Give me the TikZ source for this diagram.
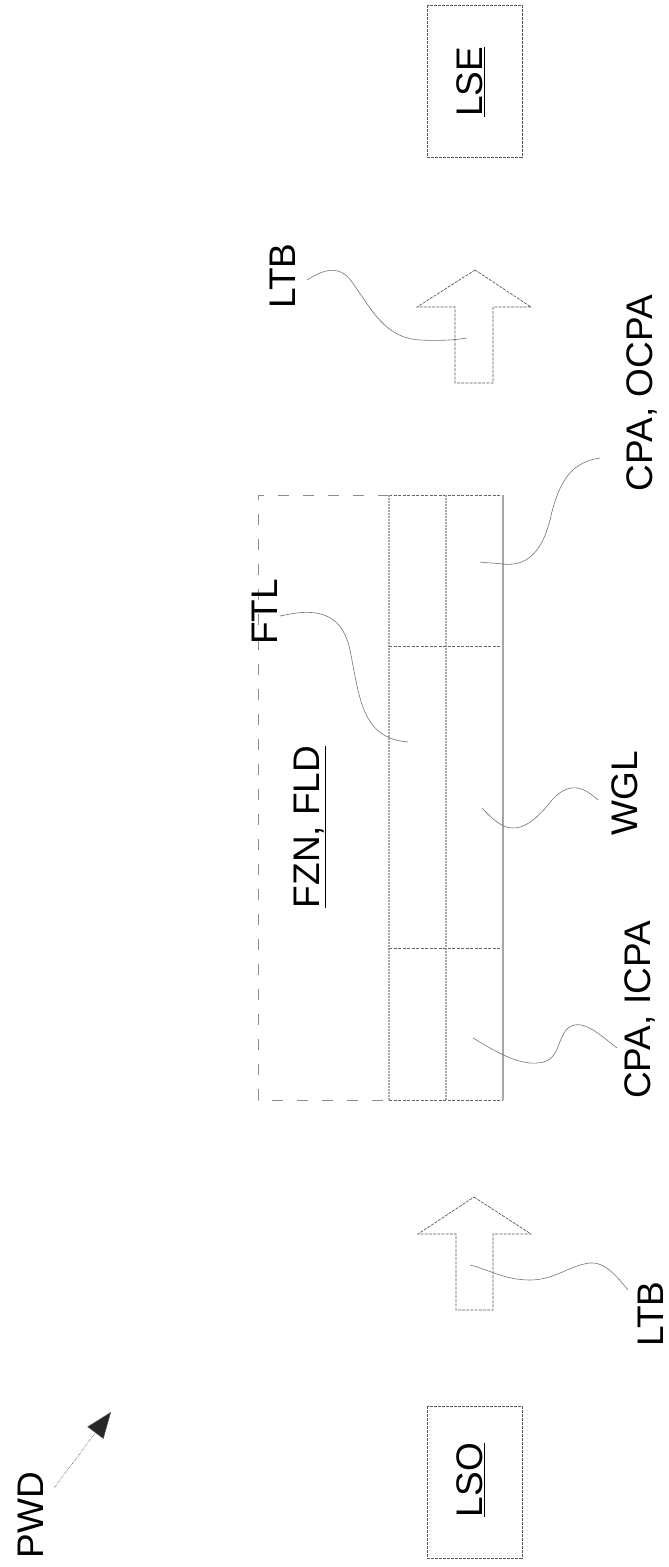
\documentclass[tikz,border=0pt]{standalone}
\usepackage{fontspec}
\setmainfont{Liberation Sans}
\usetikzlibrary{arrows.meta}
\begin{document}
\begin{tikzpicture}[x=1pt,y=-1pt,
  lbl/.style={font=\fontsize{37}{40}\selectfont, rotate=90, anchor=base, inner sep=0pt, text=black},
  leader/.style={draw=black!55, line width=0.6pt},
  blockarrow/.style={draw=black!65, line width=0.7pt, dash pattern=on 3pt off 1.2pt},
  srcbox/.style={draw=black!65, line width=0.7pt, dash pattern=on 3pt off 1pt},
  longdash/.style={draw=black!45, line width=0.8pt, dash pattern=on 11pt off 14pt},
  finedash/.style={draw=black!60, line width=0.7pt, dash pattern=on 3pt off 1.5pt},
  layerline/.style={draw=black!35, line width=1.1pt, dash pattern=on 2pt off 1pt},
  edgeline/.style={draw=black!35, line width=1.5pt}
]
\useasboundingbox (0,0) rectangle (669,1567);

% light source / sink boxes
\draw[srcbox] (427,5) rectangle (522,157);
\node[lbl] (lse) at (482,82) {\underline{LSE}};
\draw[srcbox] (427,1406) rectangle (522,1558);
\node[lbl] (lso) at (482,1480) {\underline{LSO}};

% propagation direction
\node[lbl] (pwd) at (43,1515) {PWD};
\coordinate (pwdstart) at (54,1488);
\coordinate (pwdtip) at (111,1412);
\draw[draw=black!70, line width=0.6pt, densely dotted, -{Triangle[length=26pt,width=20pt,fill=black!85]}] (pwdstart) -- (pwdtip);

% block arrows
\draw[blockarrow] (475,270) -- (531,307) -- (493,307) -- (493,383) -- (455,383) -- (455,307) -- (417,307) -- cycle;
\draw[blockarrow] (474,1197) -- (531,1234) -- (493,1234) -- (493,1310) -- (456,1310) -- (456,1234) -- (418,1234) -- cycle;

% main structure
\draw[longdash] (389,495) -- (258,495) -- (258,1100) -- (389,1100);
\draw[finedash] (389,495) -- (503,495);
\draw[finedash] (389,1100) -- (503,1100);
\draw[layerline] (389,495) -- (389,1100);
\draw[layerline] (446,495) -- (446,1100);
\draw[finedash] (389,646) -- (503,646);
\draw[finedash] (389,948) -- (503,948);
\draw[edgeline] (503,495) -- (503,1100);

% labels
\node[lbl] (fzn) at (319,827) {\underline{FZN, FLD}};
\node[lbl] (ftl) at (277,612) {FTL};
\node[lbl] (ltbtop) at (295,276) {LTB};
\node[lbl] (cpao) at (652,393) {CPA, OCPA};
\node[lbl] (wgl) at (637,793) {WGL};
\node[lbl] (cpai) at (650,1010) {CPA, ICPA};
\node[lbl] (ltbbot) at (663,1314) {LTB};

% leader end points
\coordinate (l1a) at (307,280);  \coordinate (l1b) at (467,338);
\coordinate (l2a) at (280,616);  \coordinate (l2b) at (408,742);
\coordinate (l3a) at (600,458);  \coordinate (l3b) at (480,562);
\coordinate (l4a) at (598,800);  \coordinate (l4b) at (482,808);
\coordinate (l5a) at (617,1048); \coordinate (l5b) at (473,1038);
\coordinate (l6a) at (628,1290); \coordinate (l6b) at (470,1265);

\draw[leader] (l1a) .. controls (320,272) and (338,262) .. (352,282) .. controls (372,310) and (385,338) .. (420,340) .. controls (440,341) and (455,340) .. (l1b);
\draw[leader] (l2a) .. controls (300,612) and (340,602) .. (350,650) .. controls (360,700) and (362,738) .. (l2b);
\draw[leader] (l3a) .. controls (575,462) and (560,475) .. (550,520) .. controls (540,560) and (520,566) .. (503,564) .. controls (495,563) and (487,563) .. (l3b);
\draw[leader] (l4a) .. controls (585,788) and (570,780) .. (552,800) .. controls (535,822) and (518,835) .. (500,824) .. controls (492,819) and (486,812) .. (l4b);
\draw[leader] (l5a) .. controls (600,1035) and (580,1015) .. (566,1030) .. controls (555,1045) and (560,1065) .. (530,1063) .. controls (510,1061) and (490,1048) .. (l5b);
\draw[leader] (l6a) .. controls (612,1270) and (602,1262) .. (590,1263) .. controls (570,1265) and (555,1280) .. (530,1280) .. controls (505,1280) and (490,1270) .. (l6b);
\end{tikzpicture}
\end{document}
